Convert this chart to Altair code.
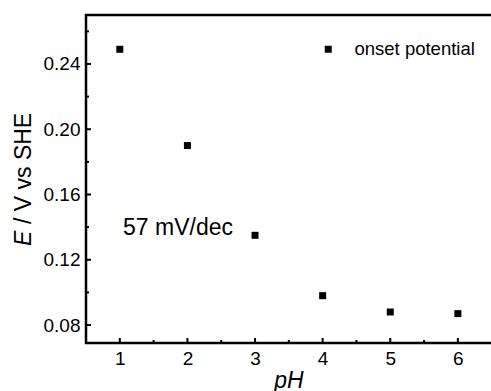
import altair as alt
import pandas as pd

ph = [1, 2, 3, 4, 5, 6]
onset = [0.249, 0.190, 0.135, 0.098, 0.088, 0.087]
series = ["onset potential"] * 6

x_major = [1, 2, 3, 4, 5, 6]
x_minor = [1.5, 2.5, 3.5, 4.5, 5.5]
y_major = [0.08, 0.12, 0.16, 0.20, 0.24]
y_minor = [0.10, 0.14, 0.18, 0.22, 0.26]

FONT = "Liberation Sans"
W, H = 405, 328
xs = alt.Scale(domain=[0.5, 6.49], nice=False, zero=False)
ys = alt.Scale(domain=[0.069, 0.270], nice=False, zero=False)

df = pd.DataFrame({"pH": ph, "E": onset, "series": series})

points = alt.Chart(df).mark_square(size=49, opacity=1).encode(
    x=alt.X("pH:Q", scale=xs,
            axis=alt.Axis(values=x_major, format="d", ticks=False, domain=False, grid=False,
                          labelFontSize=19, labelPadding=6, labelColor="black",
                          title="pH", titleFontStyle="italic", titleFontWeight="normal",
                          titleFontSize=23, titlePadding=1, titleColor="black")),
    y=alt.Y("E:Q", scale=ys,
            axis=alt.Axis(values=y_major, format=".2f", ticks=False, domain=False, grid=False,
                          labelFontSize=19, labelPadding=6, labelColor="black", title=None)),
    color=alt.Color("series:N", scale=alt.Scale(range=["black"]),
                    legend=alt.Legend(title=None, orient="none", legendX=233, legendY=25,
                                      symbolType="square", symbolSize=49, symbolStrokeWidth=0,
                                      symbolOpacity=1,
                                      labelFontSize=18.5, labelOffset=17, padding=0,
                                      labelColor="black")),
)

one = pd.DataFrame({"k": [0]})
frame_top = alt.Chart(one).mark_rule(strokeWidth=2.5, color="black").encode(
    x=alt.value(-1), x2=alt.value(W), y=alt.value(0))
frame_left = alt.Chart(one).mark_rule(strokeWidth=2.5, color="black").encode(
    x=alt.value(0), y=alt.value(-1), y2=alt.value(H + 1))
frame_bottom = alt.Chart(one).mark_rule(strokeWidth=2.5, color="black").encode(
    x=alt.value(-1), x2=alt.value(W), y=alt.value(H))

xmaj = alt.Chart(pd.DataFrame({"v": x_major})).mark_rule(strokeWidth=2, color="black").encode(
    x=alt.X("v:Q", scale=xs), y=alt.value(H), y2=alt.value(H - 5))
xmin = alt.Chart(pd.DataFrame({"v": x_minor})).mark_rule(strokeWidth=2, color="black").encode(
    x=alt.X("v:Q", scale=xs), y=alt.value(H), y2=alt.value(H - 3))
ymaj = alt.Chart(pd.DataFrame({"v": y_major})).mark_rule(strokeWidth=2, color="black").encode(
    y=alt.Y("v:Q", scale=ys), x=alt.value(0), x2=alt.value(5))
ymin = alt.Chart(pd.DataFrame({"v": y_minor})).mark_rule(strokeWidth=2, color="black").encode(
    y=alt.Y("v:Q", scale=ys), x=alt.value(0), x2=alt.value(3))

annot = alt.Chart(pd.DataFrame({"t": ["57 mV/dec"]})).mark_text(
    font=FONT, fontSize=23, align="center", baseline="middle", color="black").encode(
    text="t:N", x=alt.value(92), y=alt.value(213))

ytitle_e = alt.Chart(pd.DataFrame({"t": ["E"]})).mark_text(
    font=FONT, fontSize=23, fontStyle="italic", angle=270, align="left",
    baseline="middle", color="black").encode(
    text="t:N", x=alt.value(-62), y=alt.value(231))
ytitle_rest = alt.Chart(pd.DataFrame({"t": ["/ V vs SHE"]})).mark_text(
    font=FONT, fontSize=23, angle=270, align="left",
    baseline="middle", color="black").encode(
    text="t:N", x=alt.value(-62), y=alt.value(209))

chart = alt.layer(points, frame_top, frame_left, frame_bottom, xmaj, xmin, ymaj, ymin,
                  annot, ytitle_e, ytitle_rest).properties(
    width=W, height=H,
    autosize=alt.AutoSizeParams(type="none"),
    padding={"left": 86, "top": 15, "right": 0, "bottom": 48},
).configure(font=FONT).configure_view(
    stroke=None
)

chart.save("out.html", embed_options={"renderer": "svg", "actions": False})
